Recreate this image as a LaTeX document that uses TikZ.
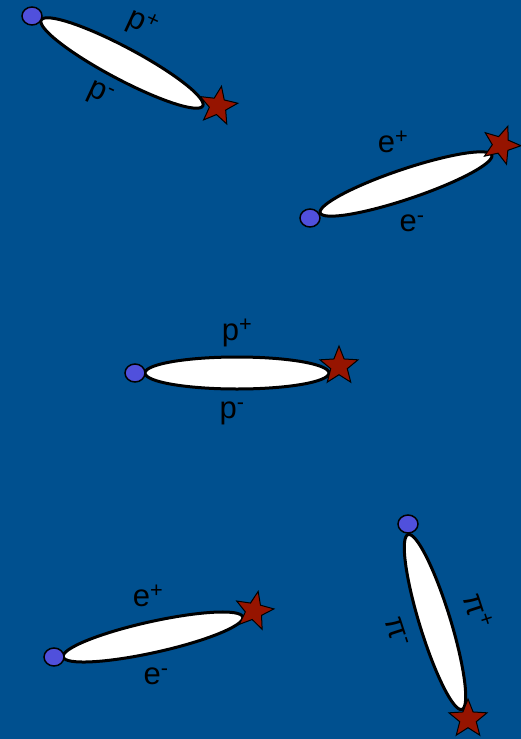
\documentclass[tikz,border=0pt]{standalone}
\usepackage{fontspec}
\setmainfont{Liberation Sans}
\usetikzlibrary{shapes.geometric}
\definecolor{bg}{RGB}{0,80,143}
\definecolor{dotblue}{RGB}{80,80,220}
\definecolor{starred}{RGB}{150,20,0}
\tikzset{
 pair/.style={ellipse, draw=black, line width=3pt, fill=white, inner sep=0pt},
 dot/.style={ellipse, draw=black, line width=1.5pt, fill=dotblue, minimum width=20pt, minimum height=18pt, inner sep=0pt},
 starmark/.style={star, star points=5, star point ratio=2.3, draw=black, line width=1pt, fill=starred, minimum size=40pt, inner sep=0pt},
 lab/.style={font=\fontsize{31}{37}\selectfont, inner sep=0pt, text=black},
}
\begin{document}
\begin{tikzpicture}[x=1pt,y=-1pt]
\fill[bg] (0,0) rectangle (521,739);
\useasboundingbox (0,0) rectangle (521,739);
% pair 1
\node[pair, minimum width=183pt, minimum height=32pt, rotate=-28] (e1) at (122,63) {};
\node[dot] (d1) at (32,16) {};
\node[starmark, rotate=-10] (s1) at (218,106) {};
\node[lab, rotate=-25] (l1a) at (142,24) {p\textsuperscript{+}};
\node[lab, rotate=-25] (l1b) at (100,95) {p\textsuperscript{-}};
% pair 2
\node[pair, minimum width=181pt, minimum height=30pt, rotate=18.6] (e2) at (406,184) {};
\node[dot] (d2) at (310,218) {};
\node[starmark, rotate=-20] (s2) at (501,145) {};
\node[lab] (l2a) at (393,142) {e\textsuperscript{+}};
\node[lab] (l2b) at (412,223) {e\textsuperscript{-}};
% pair 3
\node[pair, minimum width=184pt, minimum height=32pt] (e3) at (237,373) {};
\node[dot] (d3) at (135,373) {};
\node[starmark] (s3) at (339,366) {};
\node[lab] (l3a) at (237,333) {p\textsuperscript{+}};
\node[lab] (l3b) at (232,413) {p\textsuperscript{-}};
% pair 4
\node[pair, minimum width=184pt, minimum height=31pt, rotate=12.5] (e4) at (153,637) {};
\node[dot] (d4) at (54,657) {};
\node[starmark, rotate=-12] (s4) at (254,611) {};
\node[lab] (l4a) at (148,596) {e\textsuperscript{+}};
\node[lab] (l4b) at (156,676) {e\textsuperscript{-}};
% pair 5
\node[pair, minimum width=183pt, minimum height=31pt, rotate=-72.9] (e5) at (435,622) {};
\node[dot] (d5) at (408,524) {};
\node[starmark] (s5) at (468,719) {};
\node[lab, rotate=-72] (l5a) at (478,611) {π\textsuperscript{+}};
\node[lab, rotate=-72] (l5b) at (397,632) {π\textsuperscript{-}};
\end{tikzpicture}
\end{document}
